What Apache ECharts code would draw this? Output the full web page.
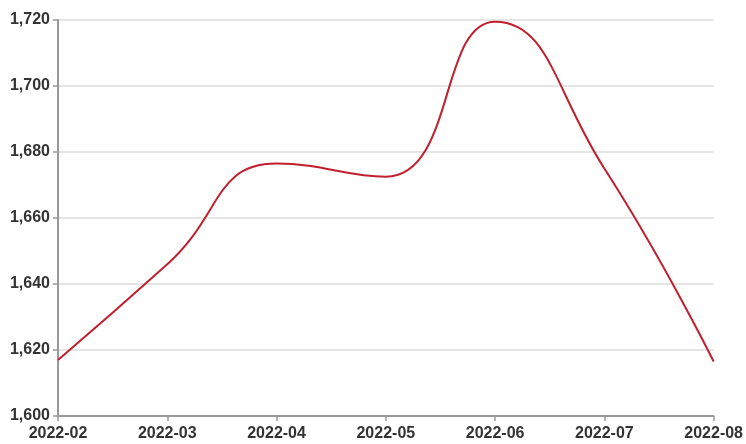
<!DOCTYPE html>
<html>
<head>
<meta charset="utf-8">
<script src="https://cdn.jsdelivr.net/npm/echarts@6/dist/echarts.min.js"></script>
<style>html,body{margin:0;padding:0;background:#fff;}#c{width:746px;height:444px;}</style>
</head>
<body>
<div id="c"></div>
<script>
const categories = ['2022-02', '2022-03', '2022-04', '2022-05', '2022-06', '2022-07', '2022-08'];
const values = [1617, 1646, 1676.5, 1672.5, 1719.5, 1675, 1616.5];
const yTicks = { min: 1600, max: 1720, interval: 20 };

const chart = echarts.init(document.getElementById('c'), null, { renderer: 'canvas' });
chart.setOption({
  animation: false,
  backgroundColor: '#fff',
  grid: { left: 58, right: 31, top: 20, bottom: 28 },
  xAxis: {
    type: 'category',
    data: categories,
    boundaryGap: false,
    axisLine: { lineStyle: { color: '#999', width: 2 } },
    axisTick: { show: true, alignWithLabel: true, length: 5, lineStyle: { color: '#999', width: 1.5 } },
    axisLabel: { color: '#333', fontSize: 16, fontWeight: 'bold', fontFamily: 'Liberation Sans, Arial', margin: 10, interval: 0, showMaxLabel: true },
    splitLine: { show: false }
  },
  yAxis: {
    type: 'value',
    min: yTicks.min, max: yTicks.max, interval: yTicks.interval,
    axisLine: { show: true, lineStyle: { color: '#999', width: 2 } },
    axisTick: { show: true, length: 5, lineStyle: { color: '#999', width: 1.5 } },
    axisLabel: {
      color: '#333', fontSize: 16, fontWeight: 'bold', fontFamily: 'Liberation Sans, Arial', margin: 8,
      formatter: v => v.toLocaleString('en-US')
    },
    splitLine: { show: true, lineStyle: { color: '#dcdcdc', width: 1.5 } }
  },
  series: [{
    type: 'line',
    data: values,
    smooth: 0.5,
    symbol: 'none',
    lineStyle: { color: '#c0202e', width: 2 }
  }]
});
</script>
</body>
</html>
